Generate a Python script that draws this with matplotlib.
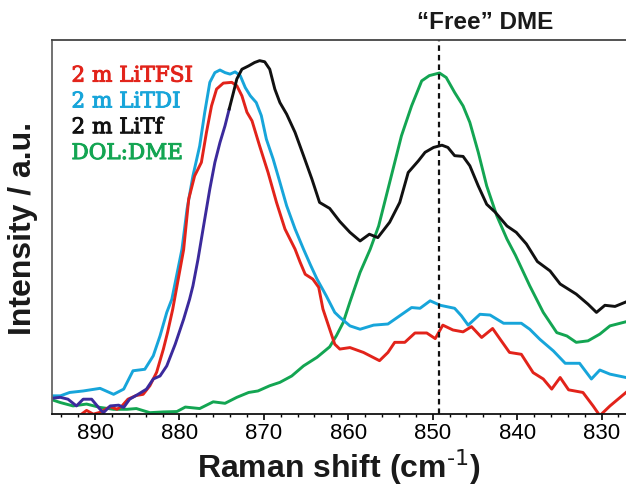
import matplotlib.pyplot as plt
import matplotlib.patheffects as pe
import numpy as np

# Raman spectra, C-O-C stretch region (intensity in arbitrary units)
x_tfsi = [891.6, 891.0, 890.2, 889.4, 888.2, 887.4, 886.8, 886.1, 885.1, 884.3, 883.5, 882.7,
          881.9, 881.4, 880.8, 879.5, 878.9, 878.2, 877.4, 876.8, 876.2, 875.6, 874.8, 873.8,
          873.2, 872.6, 872.0, 871.4, 870.5, 869.5, 868.5, 867.5, 866.3, 865.7, 865.1, 864.2,
          863.5, 863.0, 862.2, 861.6, 861.0, 859.8, 858.2, 856.3, 855.3, 854.5, 853.3, 852.1,
          850.7, 849.7, 848.8, 847.6, 846.4, 845.4, 844.2, 842.9, 842.0, 840.9, 839.5, 838.1,
          836.9, 835.9, 834.9, 833.9, 832.2, 831.0, 830.2, 829.0, 827.1]
y_tfsi = [0.0, 1.0, 0.0, 0.5, 2.0, 1.3, 2.2, 4.0, 5.0, 5.3, 7.6, 11.2,
          17.4, 21.9, 28.0, 44.0, 57.5, 63.7, 67.3, 75.3, 82.4, 86.9, 88.5, 88.7,
          87.8, 85.1, 80.7, 78.4, 71.7, 64.6, 56.6, 49.5, 44.1, 40.6, 37.4, 36.1,
          33.9, 28.1, 22.7, 18.7, 17.4, 17.8, 16.5, 14.3, 16.5, 19.2, 19.2, 21.7,
          21.7, 20.2, 23.8, 22.5, 22.0, 23.4, 20.5, 22.9, 20.0, 16.5, 16.0, 11.1,
          9.4, 6.7, 9.8, 6.5, 5.8, 2.2, -0.4, 2.2, 5.8]

x_tdi = [895.3, 894.1, 893.0, 891.4, 889.4, 887.8, 886.6, 885.5, 884.1, 883.1, 882.3, 881.5,
         880.9, 879.7, 879.1, 878.4, 877.6, 877.0, 876.4, 875.8, 875.2, 874.6, 874.0, 873.4,
         872.8, 872.2, 871.6, 870.9, 870.3, 869.7, 868.9, 868.1, 867.3, 866.3, 865.3, 864.5,
         863.7, 862.6, 861.6, 861.0, 859.8, 858.6, 857.0, 855.3, 853.9, 852.5, 851.5, 850.3,
         849.1, 847.4, 846.6, 845.8, 844.4, 843.2, 841.6, 839.5, 838.5, 837.3, 835.7, 834.3,
         832.6, 831.2, 830.2, 829.0, 827.1]
y_tdi = [4.9, 4.9, 5.8, 6.2, 6.9, 5.3, 6.7, 11.6, 12.0, 15.6, 20.9, 27.2,
         30.7, 44.1, 54.8, 63.7, 71.7, 80.7, 88.7, 91.3, 92.0, 91.3, 90.9, 91.5,
         90.5, 87.3, 85.1, 83.3, 79.8, 73.5, 68.2, 62.0, 55.7, 49.5, 44.1, 40.0,
         36.1, 31.6, 27.2, 25.9, 23.6, 22.7, 23.8, 24.1, 26.3, 28.5, 28.3, 30.3,
         29.1, 28.3, 26.3, 23.8, 26.7, 26.5, 24.3, 24.3, 22.7, 20.0, 16.9, 13.6,
         13.6, 9.4, 11.8, 10.7, 9.8]

x_litf = [895.3, 894.1, 893.2, 892.2, 891.4, 890.4, 889.4, 889.0, 888.2, 887.2, 886.6, 885.9,
          884.9, 883.9, 883.1, 882.3, 881.5, 880.5, 879.5, 878.8, 878.4, 877.8, 877.2, 876.4,
          875.8, 875.2, 874.6, 874.1, 873.6, 873.2, 872.6, 871.8, 871.1, 870.5, 869.9, 869.3,
          868.7, 868.1, 867.3, 866.3, 865.3, 864.3, 863.4, 862.2, 861.0, 859.8, 858.6, 857.5,
          856.5, 855.1, 853.9, 852.9, 851.7, 850.9, 849.9, 848.9, 848.2, 847.4, 846.4, 845.6,
          844.6, 843.6, 842.6, 841.2, 840.1, 838.9, 837.6, 836.1, 834.9, 833.0, 831.6, 830.6,
          829.6, 828.4, 827.1]
y_litf = [4.2, 4.5, 4.0, 2.2, 4.0, 4.0, 1.3, 0.4, 2.2, 2.4, 1.8, 4.0,
          5.3, 6.7, 9.4, 10.2, 12.9, 18.7, 25.4, 30.7, 34.3, 41.4, 49.5, 60.2,
          67.3, 72.6, 77.1, 81.6, 86.0, 89.6, 92.2, 93.1, 94.0, 94.5, 94.2, 92.2,
          86.9, 83.3, 80.2, 75.3, 69.1, 62.8, 56.6, 55.0, 51.5, 48.6, 46.3, 48.1,
          47.2, 51.3, 56.6, 64.6, 67.7, 70.0, 71.3, 71.9, 71.3, 69.1, 68.9, 66.4,
          61.0, 56.1, 54.0, 50.3, 48.6, 45.5, 40.8, 38.3, 34.8, 32.1, 29.4, 27.2,
          29.1, 28.8, 30.0]

x_dme = [895.3, 894.1, 892.6, 891.0, 889.4, 887.8, 886.2, 885.1, 883.5, 881.9, 880.3, 879.3,
         877.6, 876.0, 874.6, 873.2, 871.8, 870.7, 869.3, 868.1, 866.7, 865.3, 863.7, 862.2,
         861.4, 860.6, 859.8, 858.6, 857.4, 856.4, 855.1, 853.7, 852.5, 851.3, 850.4, 849.2,
         848.4, 847.4, 846.4, 845.6, 844.6, 843.6, 842.4, 841.2, 840.2, 838.5, 836.9, 835.3,
         834.1, 833.0, 831.6, 830.2, 829.0, 827.1]
y_dme = [4.0, 3.1, 2.2, 2.7, 1.8, 1.3, 1.3, 1.5, 0.4, 0.6, 0.7, 1.9,
         1.5, 3.3, 2.9, 4.5, 5.8, 6.2, 7.6, 8.5, 10.2, 12.9, 15.2, 18.0,
         21.0, 24.5, 30.0, 37.9, 44.1, 50.3, 61.9, 74.4, 82.4, 89.1, 90.5, 91.2,
         90.0, 86.0, 82.4, 78.0, 70.0, 61.0, 53.0, 46.8, 42.5, 34.3, 27.2, 21.8,
         20.9, 19.2, 19.6, 21.4, 23.6, 24.7]

labels = ['2 m LiTFSI', '2 m LiTDI', '2 m LiTf', 'DOL:DME']
colors = ['#e2231a', '#17a5da', '#111111', '#13a552']
purple = '#3b2a9c'
free_dme = 849.3

fig = plt.figure(figsize=(6.26, 4.89), dpi=100)
ax = fig.add_axes([0.083, 0.151, 0.917, 0.765])

lw = 2.1
ax.plot(x_dme, y_dme, color=colors[3], lw=lw)
ax.plot(x_tdi, y_tdi, color=colors[1], lw=lw)
ax.plot(x_tfsi, y_tfsi, color=colors[0], lw=lw)

# LiTf trace: rising edge drawn in purple, remainder in black
x_litf = np.array(x_litf)
y_litf = np.array(y_litf)
split = np.searchsorted(-x_litf, -874.1) + 1
ax.plot(x_litf[:split], y_litf[:split], color=purple, lw=lw)
ax.plot(x_litf[split - 1:], y_litf[split - 1:], color=colors[2], lw=lw)

ax.axvline(free_dme, color='#111111', lw=1.6, ls=(0, (2.5, 1.8)))
ax.text(851.8, 1.02, u'\u201cFree\u201d DME', transform=ax.get_xaxis_transform(),
        ha='left', va='bottom', fontsize=17.5, fontweight='bold', family='Liberation Sans',
        color='#1a1a1a')

for i, (lab, c) in enumerate(zip(labels, colors)):
    ax.text(0.034, 0.905 - i * 0.069, lab, transform=ax.transAxes, color=c,
            fontsize=15.5, family='DejaVu Serif', va='center', ha='left',
            path_effects=[pe.withStroke(linewidth=0.7, foreground=c)])

ax.set_xlim(895.1, 827.1)
ax.set_ylim(0, 100)
ax.set_xticks([890, 880, 870, 860, 850, 840, 830])
ax.set_xticks(np.arange(828, 895, 2), minor=True)
ax.set_yticks([])
ax.tick_params(axis='x', which='major', direction='out', length=4, width=1.2,
               labelsize=16, pad=2)
ax.tick_params(axis='x', which='minor', direction='out', length=2, width=1.0)
for t in ax.get_xticklabels():
    t.set_family('Liberation Sans')

ax.spines['right'].set_visible(False)
ax.spines['left'].set_color('#666666')
ax.spines['top'].set_color('#444444')
ax.spines['bottom'].set_color('#111111')
for s in ['left', 'top', 'bottom']:
    ax.spines[s].set_linewidth(1.3)

ax.set_xlabel(r'Raman shift (cm$^{\text{-}1}$)', fontsize=23, fontweight='bold',
              family='Liberation Sans', labelpad=2, color='#1a1a1a')
ax.set_ylabel('Intensity / a.u.', fontsize=23, fontweight='bold',
              family='Liberation Sans', labelpad=10, color='#1a1a1a')

fig.savefig('out.png', dpi=100)
